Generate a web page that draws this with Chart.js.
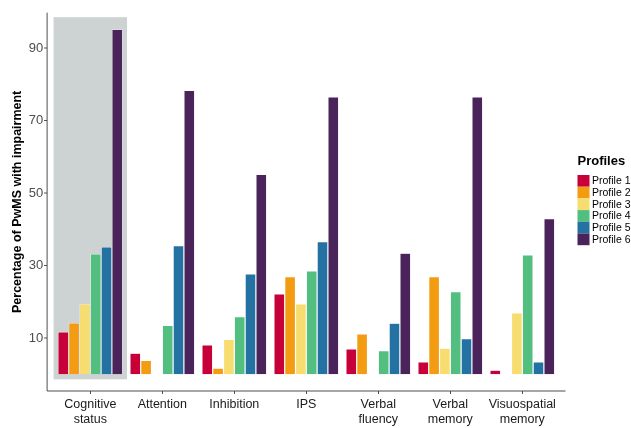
<!DOCTYPE html>
<html><head><meta charset="utf-8">
<script src="https://cdn.jsdelivr.net/npm/chart.js@4.4.0/dist/chart.umd.min.js"></script>
<style>html,body{margin:0;padding:0;background:#fff}#wrap{width:631px;height:428px;position:relative}canvas{display:block}</style>
</head><body><div id="wrap"><canvas id="c" width="631" height="428"></canvas></div>
<script>
const categories = [["Cognitive","status"],"Attention","Inhibition","IPS",["Verbal","fluency"],["Verbal","memory"],["Visuospatial","memory"]];
const profileLabels = ["Profile 1","Profile 2","Profile 3","Profile 4","Profile 5","Profile 6"];
const profile1 = [11.7, 5.8, 8.1, 22.2, 7.0, 3.4, 1.1];
const profile2 = [14.2, 3.8, 1.7, 26.9, 11.1, 26.9, 0];
const profile3 = [19.4, 0, 9.6, 19.4, 0, 7.2, 16.9];
const profile4 = [33.2, 13.5, 15.9, 28.5, 6.5, 22.8, 32.9];
const profile5 = [35.1, 35.5, 27.7, 36.6, 14.1, 9.8, 3.4];
const profile6 = [95.1, 78.3, 55.1, 76.5, 33.4, 76.5, 42.9];
const yTicks = [10, 30, 50, 70, 90];
const profileColors = ["#C8003A","#F39C12","#F7DC6F","#52BE80","#2471A3","#4A235A"];
const highlightIndex = 0;
const highlightTop = 98.5;
const highlightBottom = -1.4;

const seriesValues = [profile1, profile2, profile3, profile4, profile5, profile6];
const FONT = "'Liberation Sans', Arial, sans-serif";

const extras = {
  id: 'extras',
  beforeDatasetsDraw(chart) {
    const {ctx, chartArea, scales:{x, y}} = chart;
    const catW = (chartArea.right - chartArea.left) / categories.length;
    const cx = x.getPixelForValue(highlightIndex);
    ctx.save();
    ctx.fillStyle = '#CDD2D2';
    const t = y.getPixelForValue(highlightTop), b = y.getPixelForValue(highlightBottom);
    ctx.fillRect(cx - 0.51*catW, t, 1.02*catW, b - t);
    ctx.restore();
  },
  afterDraw(chart) {
    const {ctx, chartArea, scales:{y}} = chart;
    const catW = (chartArea.right - chartArea.left) / categories.length;
    const xl = chartArea.left - 0.1*catW, xr = chartArea.right + 0.1*catW;
    ctx.save();
    ctx.strokeStyle = '#4D4D4D';
    ctx.lineWidth = 1;
    ctx.beginPath();
    ctx.moveTo(xl, chartArea.top); ctx.lineTo(xl, chartArea.bottom);
    ctx.lineTo(xr, chartArea.bottom);
    yTicks.forEach(v => { const py = y.getPixelForValue(v); ctx.moveTo(xl-3, py); ctx.lineTo(xl, py); });
    ctx.stroke();
    // legend
    const lx = 577.5, ly = 175, rowH = 11.7;
    ctx.fillStyle = '#000';
    ctx.font = 'bold 13px ' + FONT;
    ctx.textBaseline = 'middle';
    ctx.textAlign = 'left';
    ctx.fillText('Profiles', lx, 161.5);
    chart.data.datasets.forEach((ds, i) => {
      ctx.fillStyle = ds.backgroundColor;
      ctx.fillRect(lx, ly + i*rowH, 12, rowH);
      ctx.fillStyle = '#000';
      ctx.font = '10.5px ' + FONT;
      ctx.fillText(ds.label, lx + 14.5, ly + i*rowH + rowH/2 + 0.5);
    });
    ctx.restore();
  }
};

new Chart(document.getElementById('c'), {
  type: 'bar',
  data: {
    labels: categories,
    datasets: seriesValues.map((vals, i) => ({
      label: profileLabels[i],
      data: vals,
      backgroundColor: profileColors[i],
      borderColor: '#ffffff',
      borderWidth: 0.6,
      categoryPercentage: 0.9,
      barPercentage: 1
    }))
  },
  options: {
    responsive: false,
    animation: false,
    devicePixelRatio: 1,
    layout: { padding: { top: 12.7, right: 72.7, left: 0, bottom: 0 } },
    plugins: { legend: { display: false }, tooltip: { enabled: false } },
    scales: {
      x: {
        type: 'category',
        offset: true,
        grid: { display: true, drawOnChartArea: false, offset: false, tickLength: 3, color: '#4D4D4D' },
        border: { display: false },
        ticks: { autoSkip: false, maxRotation: 0, padding: 3.5, color: '#1A1A1A', font: { family: FONT, size: 12.5 } },
        afterFit: s => { s.height = 37; s.paddingLeft = 0; s.paddingRight = 0; }
      },
      y: {
        type: 'linear',
        min: -4.62,
        max: 99.74,
        afterBuildTicks: s => { s.ticks = yTicks.map(v => ({ value: v })); },
        grid: { display: false, drawTicks: false },
        border: { display: false },
        ticks: { padding: 11, color: '#4D4D4D', font: { family: FONT, size: 13 } },
        title: { display: true, text: 'Percentage of PwMS with impairment', color: '#000', font: { family: FONT, size: 12.5, weight: 'bold' }, padding: { top: 10.5, bottom: 0 } },
        afterFit: s => { s.width = 54.3; s.paddingTop = 0; s.paddingBottom = 0; }
      }
    }
  },
  plugins: [extras]
});
</script>
</body></html>
